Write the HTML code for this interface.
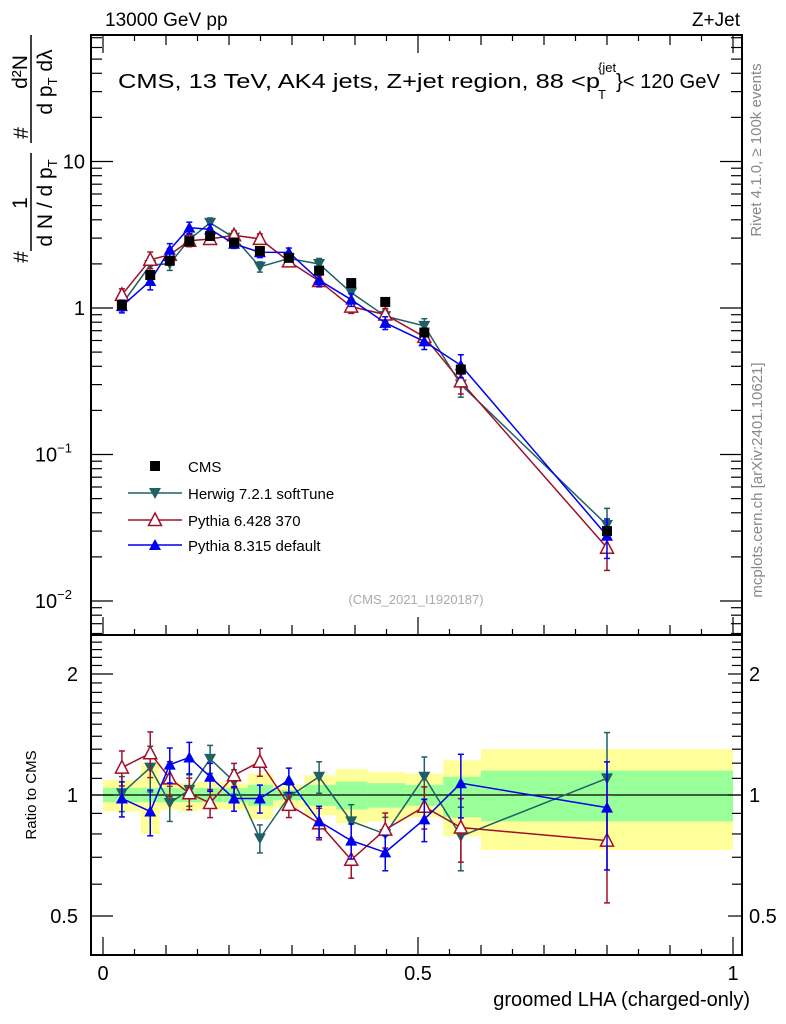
<!DOCTYPE html>
<html><head><meta charset="utf-8"><style>
body{margin:0;background:#fff}
svg{display:block;font-family:"Liberation Sans",sans-serif}
</style></head><body>
<svg id="c" width="786" height="1024" viewBox="0 0 786 1024">
<text x="105" y="26" font-size="19">13000 GeV pp</text>
<text x="740" y="26" font-size="19" text-anchor="end">Z+Jet</text>
<g font-size="20">
<text x="118" y="88" textLength="482" lengthAdjust="spacingAndGlyphs">CMS, 13 TeV, AK4 jets, Z+jet region, 88 &lt;p</text>
<text x="598" y="72" font-size="13">{jet</text>
<text x="598" y="99" font-size="13">T</text>
<text x="616" y="88" textLength="104" lengthAdjust="spacingAndGlyphs">}&lt; 120 GeV</text>
</g>
<text transform="translate(761,150) rotate(-90)" font-size="15" fill="#888" text-anchor="middle">Rivet 4.1.0, ≥ 100k events</text>
<text transform="translate(762,480) rotate(-90)" font-size="15" fill="#888" text-anchor="middle">mcplots.cern.ch [arXiv:2401.10621]</text>
<text x="416" y="604" font-size="13" fill="#aaa" text-anchor="middle">(CMS_2021_I1920187)</text>
<g transform="translate(40,270) rotate(-90)" font-size="21">
 <text x="13" y="-12" text-anchor="middle">#</text>
 <line x1="19" x2="117" y1="-9" y2="-9" stroke="#000" stroke-width="1.5"/>
 <text x="67" y="-13" text-anchor="middle">1</text>
 <text x="67" y="12" text-anchor="middle">d N / d p<tspan font-size="13" dy="5">T</tspan></text>
 <text x="137" y="-12" text-anchor="middle">#</text>
 <line x1="127" x2="235" y1="-9" y2="-9" stroke="#000" stroke-width="1.5"/>
 <text x="198" y="-13" text-anchor="middle">d²N</text>
 <text x="188" y="12" text-anchor="middle">d p<tspan font-size="13" dy="5">T</tspan><tspan dy="-5"> dλ</tspan></text>
</g>
<text transform="translate(36,795) rotate(-90)" font-size="15" text-anchor="middle">Ratio to CMS</text>
<text x="750" y="1006" font-size="20" text-anchor="end">groomed LHA (charged-only)</text>
<g id="bands"></g><g id="axes"></g><g id="series"></g><g id="legend"></g>
</svg>
<script>
const xCenters=[0.03,0.075,0.106,0.137,0.17,0.208,0.249,0.295,0.343,0.394,0.448,0.51,0.568,0.8];
const cmsVals=[1.05,1.68,2.1,2.85,3.1,2.8,2.45,2.2,1.8,1.48,1.1,0.68,0.38,0.03];
const herwigRatio=[1.01,1.17,0.955,1.03,1.23,1.08,0.78,0.99,1.11,0.86,0.80,1.11,0.79,1.10];
const pythia6Ratio=[1.17,1.27,1.10,1.01,0.955,1.12,1.21,0.945,0.85,0.69,0.82,0.935,0.83,0.77];
const pythia8Ratio=[0.98,0.91,1.19,1.24,1.11,0.98,0.98,1.09,0.86,0.77,0.72,0.87,1.07,0.93];
const mcRelErr=[0.10,0.13,0.10,0.09,0.08,0.07,0.08,0.07,0.09,0.10,0.10,0.12,0.18,0.30];
const binEdges=[0,0.06,0.09,0.12,0.15,0.19,0.23,0.27,0.32,0.37,0.42,0.48,0.54,0.6,1.0];
const yellowHi=[1.09,1.2,1.08,1.07,1.08,1.07,1.13,1.06,1.12,1.16,1.14,1.13,1.22,1.30];
const yellowLo=[0.91,0.80,0.92,0.91,0.92,0.92,0.87,0.93,0.89,0.85,0.86,0.88,0.79,0.73];
const greenHi=[1.04,1.04,1.04,1.04,1.04,1.04,1.06,1.03,1.06,1.08,1.07,1.06,1.11,1.15];
const greenLo=[0.96,0.96,0.96,0.96,0.96,0.96,0.94,0.97,0.94,0.92,0.93,0.94,0.88,0.86];
const NS='http://www.w3.org/2000/svg';
const L=91,R=742,T=35,M=635,B=955;
const X=v=>103+630*v;
const Y=v=>308-146.5*Math.log10(v);
const RY=v=>795-402*Math.log10(v);
function mk(p,tag,at){const e=document.createElementNS(NS,tag);for(const k in at)e.setAttribute(k,at[k]);p.appendChild(e);return e;}
const bands=document.getElementById('bands'),axes=document.getElementById('axes'),ser=document.getElementById('series'),leg=document.getElementById('legend');
for(let i=0;i<yellowHi.length;i++){
 const x0=X(binEdges[i]),x1=X(binEdges[i+1]);
 const y=mk(bands,'rect',{x:x0,y:RY(yellowHi[i]),width:x1-x0,height:RY(yellowLo[i])-RY(yellowHi[i]),fill:'#ffff99'});
 
 
 const g=mk(bands,'rect',{x:x0,y:RY(greenHi[i]),width:x1-x0,height:RY(greenLo[i])-RY(greenHi[i]),fill:'#99ff99'});
 
 
}
mk(axes,'line',{x1:L,x2:R,y1:RY(1),y2:RY(1),stroke:'#000','stroke-width':1.2});
mk(axes,'rect',{x:L,y:T,width:R-L,height:M-T,fill:'none',stroke:'#000','stroke-width':2});
mk(axes,'rect',{x:L,y:M,width:R-L,height:B-M,fill:'none',stroke:'#000','stroke-width':2});
function tk(x1,y1,x2,y2){mk(axes,'line',{x1,y1,x2,y2,stroke:'#000','stroke-width':1.2});}
function lbl(x,y,t,a){const e=mk(axes,'text',{x,y,'font-size':20,'text-anchor':a});e.textContent=t;return e;}
for(let d=-3;d<=1;d++)for(let m=1;m<10;m++){const v=m*Math.pow(10,d);const y=Y(v);if(y<T||y>M)continue;const len=m==1?22:11;tk(L,y,L+len,y);tk(R,y,R-len,y);}
lbl(85,Y(10)+7,'10','end');lbl(85,Y(1)+7,'1','end');
let e=lbl(85,Y(0.1)+7,'10','end');e.innerHTML='10<tspan font-size="13" dy="-9">−1</tspan>';e.setAttribute('x',72);
e=lbl(85,Y(0.01)+7,'10','end');e.innerHTML='10<tspan font-size="13" dy="-9">−2</tspan>';e.setAttribute('x',72);
for(let v=0.4;v<=2.51;v+=0.1){const y=RY(v);if(y<M||y>B)continue;const maj=[0.5,1,2].some(q=>Math.abs(q-v)<1e-6);tk(L,y,L+(maj?22:11),y);tk(R,y,R-(maj?14:10),y);}
[['2',2],['1',1],['0.5',0.5]].forEach(([t,v])=>{lbl(78,RY(v)+7,t,'end');lbl(749,RY(v)+7,t,'start');});
for(let i=0;i<=20;i++){const v=i*0.05,x=X(v);const maj=i%10==0;const len=maj?18:(i%2==0?10:6);tk(x,M,x,M-len);tk(x,T,x,T+len);tk(x,B,x,B-len);}
lbl(X(0),980,'0','middle');lbl(X(0.5),980,'0.5','middle');lbl(X(1),980,'1','middle');
function marker(g,type,x,y,col,s){
 if(type=='sq')return mk(g,'rect',{x:x-5,y:y-5,width:10,height:10,fill:col});
 if(type=='down')return mk(g,'polygon',{points:`${x-6},${y-5} ${x+6},${y-5} ${x},${y+6}`,fill:col});
 if(type=='up')return mk(g,'polygon',{points:`${x-6},${y+5} ${x+6},${y+5} ${x},${y-6}`,fill:col});
 return mk(g,'polygon',{points:`${x-6.5},${y+5.5} ${x+6.5},${y+5.5} ${x},${y-7}`,fill:'#fff',stroke:col,'stroke-width':1.5});
}
function series(name,ratio,col,type){
 const g=mk(ser,'g',{});
 
 
 const pts=xCenters.map((x,i)=>[X(x),Y(cmsVals[i]*ratio[i])]);
 const rpts=xCenters.map((x,i)=>[X(x),RY(ratio[i])]);
 mk(g,'polyline',{points:pts.map(p=>p.join(',')).join(' '),fill:'none',stroke:col,'stroke-width':1.5});
 mk(g,'polyline',{points:rpts.map(p=>p.join(',')).join(' '),fill:'none',stroke:col,'stroke-width':1.5});
 xCenters.forEach((x,i)=>{
  const v=cmsVals[i]*ratio[i],e=mcRelErr[i],px=X(x);
  [[Y(v*(1+e)),Y(v*(1-e))],[RY(ratio[i]*(1+e)),RY(ratio[i]*(1-e))]].forEach(([a,b])=>{
   mk(g,'line',{x1:px,x2:px,y1:a,y2:b,stroke:col,'stroke-width':1.5});
   mk(g,'line',{x1:px-3,x2:px+3,y1:a,y2:a,stroke:col,'stroke-width':1.5});
   mk(g,'line',{x1:px-3,x2:px+3,y1:b,y2:b,stroke:col,'stroke-width':1.5});
  });
  const m1=marker(g,type,px,Y(v),col);
  
  
  const m2=marker(g,type,px,RY(ratio[i]),col);
  
  
 });
}
series('herwig',herwigRatio,'#1f6066','down');
series('pythia6',pythia6Ratio,'#a0102a','open');
series('pythia8',pythia8Ratio,'#0000ee','up');
const cg=mk(ser,'g',{});


xCenters.forEach((x,i)=>{const m=marker(cg,'sq',X(x),Y(cmsVals[i]),'#000');
 
 });
const entries=[['CMS','#000','sq',466],['Herwig 7.2.1 softTune','#1f6066','down',493],['Pythia 6.428 370','#a0102a','open',520],['Pythia 8.315 default','#0000ee','up',545]];
entries.forEach(([t,c,ty,y])=>{
 const g=mk(leg,'g',{});
 
 
 if(ty!='sq')mk(g,'line',{x1:128,x2:182,y1:y,y2:y,stroke:c,'stroke-width':1.5});
 marker(g,ty,155,y,c);
 const tx=mk(g,'text',{x:188,y:y+6,'font-size':15});tx.textContent=t;
});
</script>
</body></html>
